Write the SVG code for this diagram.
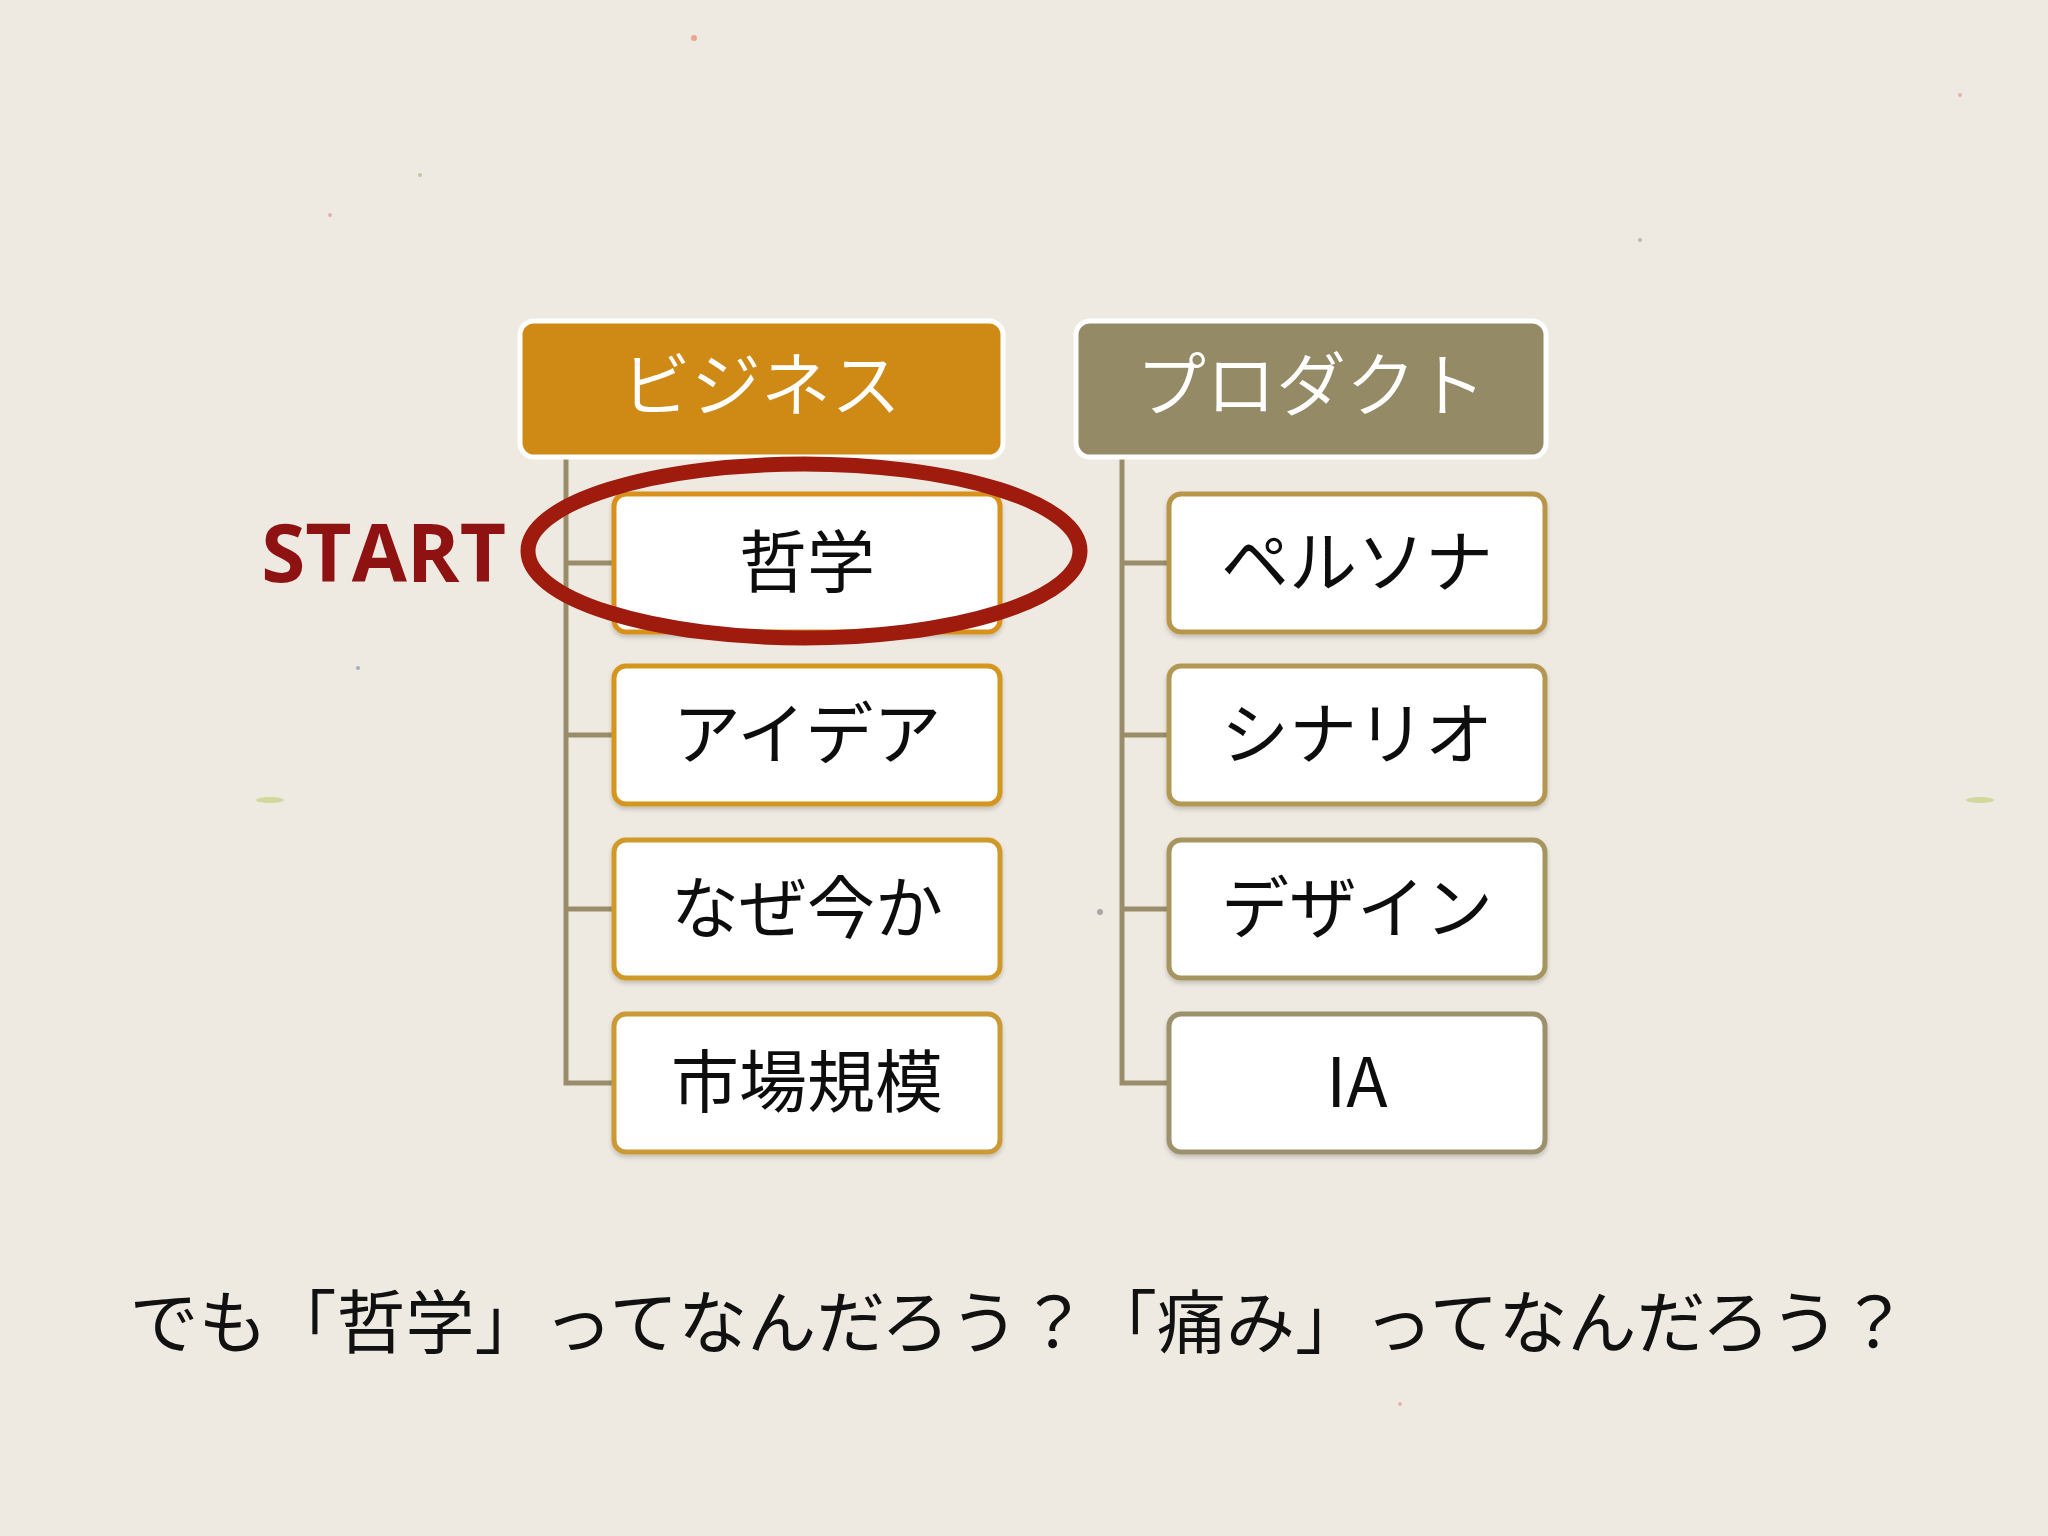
<svg xmlns="http://www.w3.org/2000/svg" width="2048" height="1536" viewBox="0 0 2048 1536">
<defs>
<style>
.hdr{stroke:#FFFFFF;stroke-width:5}
.hdrtxt{font-family:"Noto Sans CJK JP","Noto Sans",sans-serif;font-size:70px;font-weight:350;fill:#FFFFFF;text-anchor:middle}
.box{fill:#FFFFFF;stroke-width:5}
.boxtxt{font-family:"Noto Sans CJK JP","Noto Sans",sans-serif;font-size:68px;font-weight:400;fill:#111111;text-anchor:middle}
.line{fill:none;stroke:#9A8E6A;stroke-width:5}
</style>
<filter id="sh" x="-5%" y="-5%" width="110%" height="120%">
<feDropShadow dx="0" dy="3" stdDeviation="2" flood-color="#000000" flood-opacity="0.18"/>
</filter>
</defs>
<rect x="0" y="0" width="2048" height="1536" fill="#EEEAE2"/>
<g id="speckles" opacity="0.55">
<circle cx="694" cy="38" r="3" fill="#E07050"/>
<circle cx="330" cy="215" r="2" fill="#E08080"/>
<circle cx="1640" cy="240" r="2" fill="#909090"/>
<circle cx="1960" cy="95" r="2" fill="#E08080"/>
<ellipse cx="270" cy="800" rx="14" ry="3" fill="#B8C860"/>
<ellipse cx="1980" cy="800" rx="14" ry="3" fill="#B8C860"/>
<circle cx="358" cy="668" r="2" fill="#6080A0"/>
<circle cx="1100" cy="912" r="3" fill="#707070"/>
<circle cx="1400" cy="1404" r="2" fill="#E08080"/>
<circle cx="420" cy="175" r="2" fill="#90B070"/>
</g>
<g id="connectors">
<path class="line" d="M566 457 V1083 H614 M566 563 H614 M566 735 H614 M566 909 H614"/>
<path class="line" d="M1122 457 V1083 H1169 M1122 563 H1169 M1122 735 H1169 M1122 909 H1169"/>
</g>
<g id="header-business">
<rect class="hdr" x="520" y="321" width="483" height="136" rx="14" fill="#CF8A16"/>
<text class="hdrtxt" x="761" y="411">ビジネス</text>
</g>
<g id="header-product">
<rect class="hdr" x="1076" y="321" width="470" height="136" rx="14" fill="#948A65"/>
<text class="hdrtxt" x="1311" y="411">プロダクト</text>
</g>
<g id="node-tetsugaku" filter="url(#sh)">
<rect class="box" x="614" y="494" width="386" height="138" rx="12" stroke="#D8921C"/>
<text class="boxtxt" x="807" y="587">哲学</text>
</g>
<g id="node-idea" filter="url(#sh)">
<rect class="box" x="614" y="666" width="386" height="138" rx="12" stroke="#D4961E"/>
<text class="boxtxt" x="807" y="759">アイデア</text>
</g>
<g id="node-nazeimaka" filter="url(#sh)">
<rect class="box" x="614" y="840" width="386" height="138" rx="12" stroke="#D09A2A"/>
<text class="boxtxt" x="807" y="933">なぜ今か</text>
</g>
<g id="node-shijokibo" filter="url(#sh)">
<rect class="box" x="614" y="1014" width="386" height="138" rx="12" stroke="#C99A34"/>
<text class="boxtxt" x="807" y="1107">市場規模</text>
</g>
<g id="node-persona" filter="url(#sh)">
<rect class="box" x="1169" y="494" width="376" height="138" rx="12" stroke="#B8964A"/>
<text class="boxtxt" x="1357" y="587">ペルソナ</text>
</g>
<g id="node-scenario" filter="url(#sh)">
<rect class="box" x="1169" y="666" width="376" height="138" rx="12" stroke="#B29852"/>
<text class="boxtxt" x="1357" y="759">シナリオ</text>
</g>
<g id="node-design" filter="url(#sh)">
<rect class="box" x="1169" y="840" width="376" height="138" rx="12" stroke="#A6955F"/>
<text class="boxtxt" x="1357" y="933">デザイン</text>
</g>
<g id="node-ia" filter="url(#sh)">
<rect class="box" x="1169" y="1014" width="376" height="138" rx="12" stroke="#9C916C"/>
<text class="boxtxt" x="1357" y="1107">IA</text>
</g>
<g id="start-marker">
<ellipse cx="804" cy="551" rx="276" ry="87" fill="none" stroke="#9E1B0E" stroke-width="15"/>
<text x="506" y="582" font-family="'Open Sans','Noto Sans',sans-serif" font-size="80" font-weight="700" fill="#8E1212" text-anchor="end">START</text>
</g>
<g id="caption">
<text x="1019" y="1348" font-family="'Noto Sans CJK JP','Noto Sans',sans-serif" font-size="69" fill="#111111" text-anchor="middle">でも「哲学」ってなんだろう？「痛み」ってなんだろう？</text>
</g>
</svg>
